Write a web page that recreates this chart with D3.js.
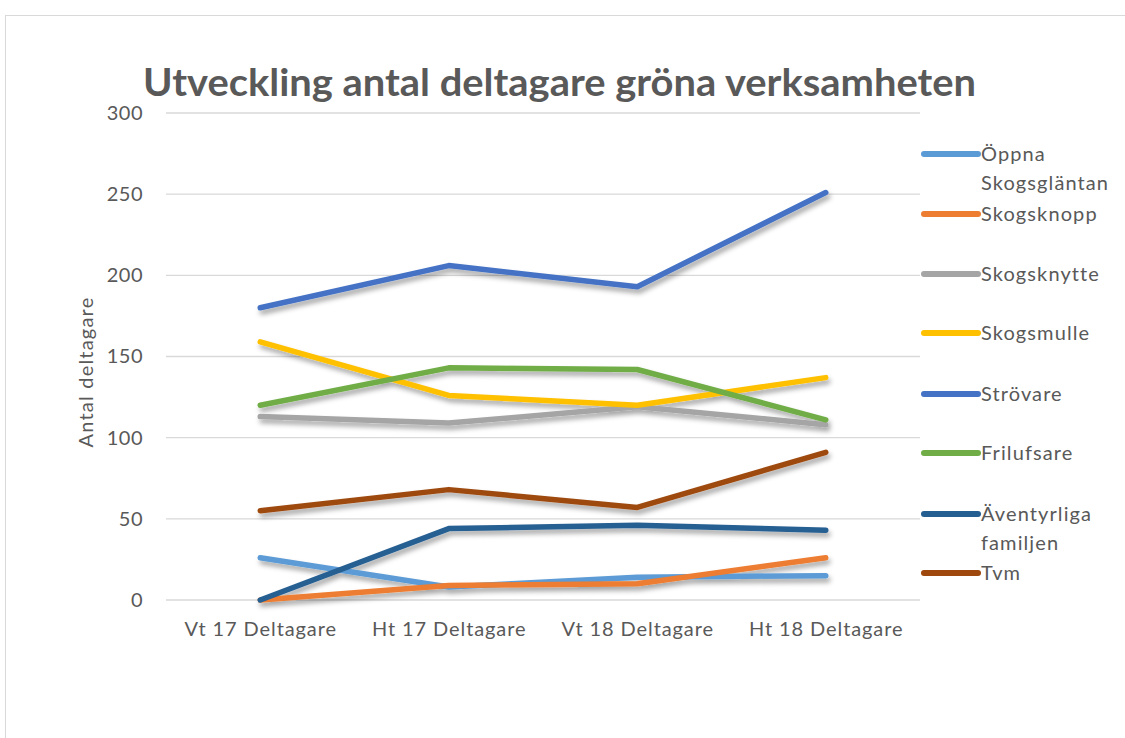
<!DOCTYPE html>
<html>
<head>
<meta charset="utf-8">
<script src="https://cdn.jsdelivr.net/npm/d3@7"></script>
<style>
  body { margin: 0; background: #fff; }
  text { font-family: Lato, "Noto Sans", sans-serif; fill: #595959; }
</style>
</head>
<body>
<div id="chart"></div>
<script>
// data
const categories = ["Vt 17 Deltagare", "Ht 17 Deltagare", "Vt 18 Deltagare", "Ht 18 Deltagare"];
const seriesNames = ["Öppna Skogsgläntan", "Skogsknopp", "Skogsknytte", "Skogsmulle", "Strövare", "Frilufsare", "Äventyrliga familjen", "Tvm"];
const oppna = [26, 8, 14, 15];
const skogsknopp = [0, 9, 10, 26];
const skogsknytte = [113, 109, 119, 108];
const skogsmulle = [159, 126, 120, 137];
const strovare = [180, 206, 193, 251];
const frilufsare = [120, 143, 142, 111];
const aventyrliga = [0, 44, 46, 43];
const tvm = [55, 68, 57, 91];
const yTicks = [0, 50, 100, 150, 200, 250, 300];
const colors = ["#5B9BD5", "#ED7D31", "#A5A5A5", "#FFC000", "#4472C4", "#70AD47", "#255E91", "#9E480E"];

const seriesValues = [oppna, skogsknopp, skogsknytte, skogsmulle, strovare, frilufsare, aventyrliga, tvm];
const series = seriesNames.map((name, i) => ({ name: name, values: seriesValues[i], color: colors[i] }));

const width = 1125, height = 738;
const margin = { top: 113, right: 205, bottom: 138, left: 166 };

const svg = d3.select("#chart").append("svg")
    .attr("width", width)
    .attr("height", height);

// shadow under the lines
const defs = svg.append("defs");
defs.append("filter")
    .attr("id", "shadow")
    .attr("x", "-10%").attr("y", "-10%").attr("width", "120%").attr("height", "130%")
    .append("feDropShadow")
    .attr("dx", 2).attr("dy", 4).attr("stdDeviation", 2.5)
    .attr("flood-color", "#000").attr("flood-opacity", 0.35);

// chart border
svg.append("rect")
    .attr("x", 5.5).attr("y", 15.5)
    .attr("width", width).attr("height", height)
    .attr("fill", "none").attr("stroke", "#d9d9d9");

const x = d3.scalePoint()
    .domain(categories)
    .range([margin.left, width - margin.right])
    .padding(0.5);

const y = d3.scaleLinear()
    .domain([0, 300])
    .range([height - margin.bottom, margin.top]);

// gridlines
svg.append("g")
    .selectAll("line")
    .data(yTicks)
    .enter().append("line")
    .attr("x1", margin.left).attr("x2", width - margin.right)
    .attr("y1", d => y(d)).attr("y2", d => y(d))
    .attr("stroke", "#d9d9d9").attr("stroke-width", 1.3);

// y axis
const yAxis = svg.append("g")
    .attr("transform", `translate(${margin.left},0)`)
    .call(d3.axisLeft(y).tickValues(yTicks).tickSize(0).tickPadding(23));
yAxis.select(".domain").remove();
yAxis.selectAll("text")
    .style("font-family", "Lato, sans-serif")
    .style("font-size", "20px")
    .style("letter-spacing", "0.5px")
    .attr("fill", "#595959");

// x axis
const xAxis = svg.append("g")
    .attr("transform", `translate(0,${height - margin.bottom})`)
    .call(d3.axisBottom(x).tickSize(0).tickPadding(22));
xAxis.select(".domain").remove();
xAxis.selectAll("text")
    .style("font-family", "Lato, sans-serif")
    .style("font-size", "20px")
    .style("letter-spacing", "0.9px")
    .attr("fill", "#595959");

// axis title
svg.append("text")
    .attr("transform", "translate(93,372) rotate(-90)")
    .attr("text-anchor", "middle")
    .style("font-size", "20px")
    .style("letter-spacing", "1.2px")
    .text("Antal deltagare");

// title
svg.append("text")
    .attr("x", 143).attr("y", 96)
    .attr("textLength", 833)
    .attr("lengthAdjust", "spacingAndGlyphs")
    .style("font-size", "38px")
    .style("font-weight", "bold")
    .text("Utveckling antal deltagare gröna verksamheten");

// lines
const line = d3.line()
    .x((d, i) => x(categories[i]))
    .y(d => y(d));

svg.append("g")
    .attr("filter", "url(#shadow)")
    .selectAll("path")
    .data(series)
    .enter().append("path")
    .attr("d", d => line(d.values))
    .attr("fill", "none")
    .attr("stroke", d => d.color)
    .attr("stroke-width", 5.5)
    .attr("stroke-linecap", "round")
    .attr("stroke-linejoin", "round");

// legend
const legendY = [154, 214, 274, 333, 394, 453, 514, 573];
const legend = svg.append("g")
    .selectAll("g")
    .data(series)
    .enter().append("g")
    .attr("transform", (d, i) => `translate(922,${legendY[i]})`);

legend.append("line")
    .attr("x1", 2).attr("x2", 56)
    .attr("stroke", d => d.color)
    .attr("stroke-width", 6)
    .attr("stroke-linecap", "round");

legend.append("text")
    .attr("x", 59)
    .attr("y", 7)
    .style("font-size", "20px")
    .style("letter-spacing", "1.1px")
    .each(function (d) {
        const words = d.name.split(" ");
        const t = d3.select(this);
        words.forEach((w, j) => {
            t.append("tspan").attr("x", 59).attr("dy", j === 0 ? 0 : 29).text(w);
        });
    });
</script>
</body>
</html>
